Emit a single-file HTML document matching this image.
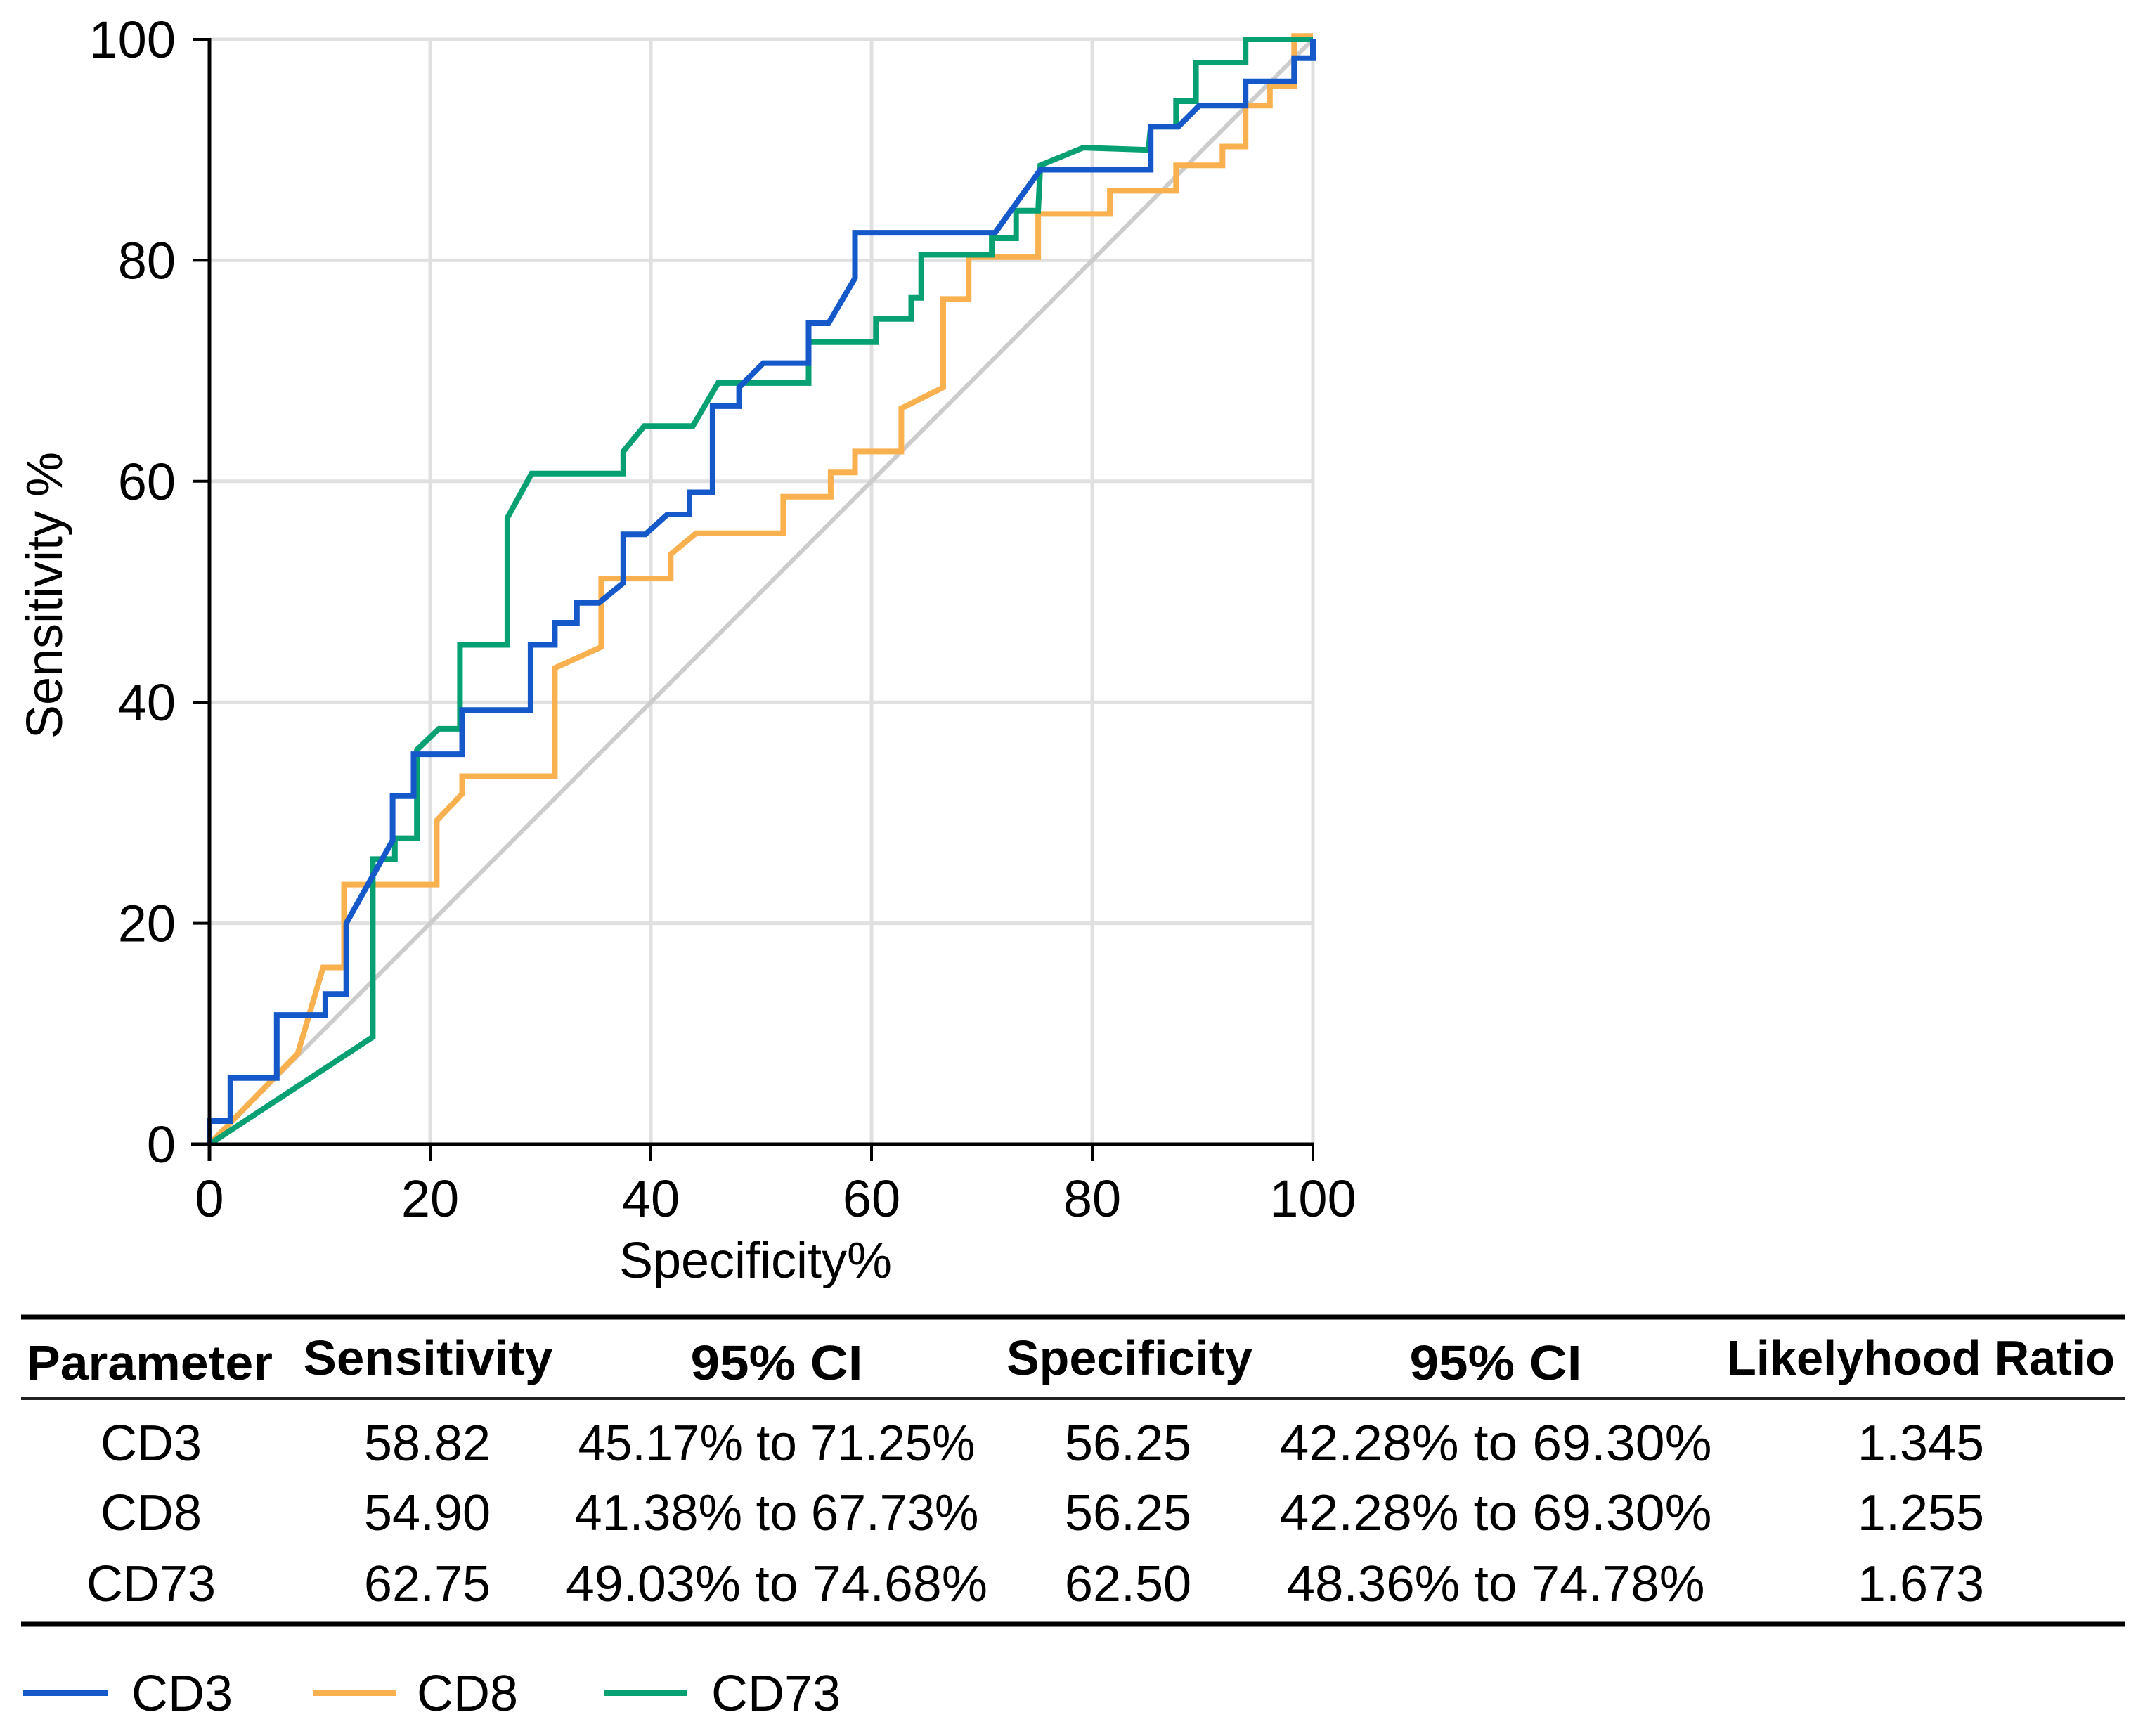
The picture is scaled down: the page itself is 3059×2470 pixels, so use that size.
<!DOCTYPE html>
<html><head><meta charset="utf-8"><style>
html,body{margin:0;padding:0;background:#fff;}
svg{display:block;font-family:"Liberation Sans",Arial,sans-serif;}
</style></head><body>
<svg id="chart" width="3059" height="2470" viewBox="0 0 3059 2470" xmlns="http://www.w3.org/2000/svg">
<g id="grid"></g>
<line id="diag" stroke="#cccccc" stroke-width="6"/>
<g id="series"></g>
<g id="axes"></g>
<text x="1075" y="1818" font-size="72" text-anchor="middle">Specificity%</text>
<text transform="translate(88,847) rotate(-90)" font-size="72" text-anchor="middle">Sensitivity %</text>
<g>
<line x1="30" x2="3024" y1="1874" y2="1874" stroke="#000" stroke-width="7"/>
<line x1="30" x2="3024" y1="1990" y2="1990" stroke="#222" stroke-width="4"/>
<line x1="30" x2="3024" y1="2311" y2="2311" stroke="#000" stroke-width="7"/>
<g font-size="70" font-weight="bold" text-anchor="middle">
<text x="213" y="1963" textLength="350" lengthAdjust="spacingAndGlyphs">Parameter</text>
<text x="609" y="1956" textLength="355" lengthAdjust="spacingAndGlyphs">Sensitivity</text>
<text x="1105" y="1963" textLength="245" lengthAdjust="spacingAndGlyphs">95% CI</text>
<text x="1607" y="1956" textLength="350" lengthAdjust="spacingAndGlyphs">Specificity</text>
<text x="2128" y="1963" textLength="245" lengthAdjust="spacingAndGlyphs">95% CI</text>
<text x="2733" y="1956" textLength="552" lengthAdjust="spacingAndGlyphs">Likelyhood Ratio</text>
</g>
<g font-size="72" text-anchor="middle">
<text x="215" y="2078">CD3</text>
<text x="608" y="2078">58.82</text>
<text x="1105" y="2078" textLength="565" lengthAdjust="spacingAndGlyphs">45.17% to 71.25%</text>
<text x="1605" y="2078">56.25</text>
<text x="2128" y="2078" textLength="615" lengthAdjust="spacingAndGlyphs">42.28% to 69.30%</text>
<text x="2733" y="2078">1.345</text>
<text x="215" y="2177">CD8</text>
<text x="608" y="2177">54.90</text>
<text x="1105" y="2177" textLength="575" lengthAdjust="spacingAndGlyphs">41.38% to 67.73%</text>
<text x="1605" y="2177">56.25</text>
<text x="2128" y="2177" textLength="615" lengthAdjust="spacingAndGlyphs">42.28% to 69.30%</text>
<text x="2733" y="2177">1.255</text>
<text x="215" y="2278">CD73</text>
<text x="608" y="2278">62.75</text>
<text x="1105" y="2278" textLength="600" lengthAdjust="spacingAndGlyphs">49.03% to 74.68%</text>
<text x="1605" y="2278">62.50</text>
<text x="2128" y="2278" textLength="595" lengthAdjust="spacingAndGlyphs">48.36% to 74.78%</text>
<text x="2733" y="2278">1.673</text>
</g>
</g>
<g font-size="72">
<g>
<line x1="33" x2="153" y1="2409" y2="2409" stroke="#1558c9" stroke-width="8"/>
<text x="187" y="2434">CD3</text></g>
<g>
<line x1="445" x2="563" y1="2409" y2="2409" stroke="#f9b04f" stroke-width="8"/>
<text x="593" y="2434">CD8</text></g>
<g>
<line x1="859" x2="978" y1="2409" y2="2409" stroke="#07a073" stroke-width="8"/>
<text x="1012" y="2434">CD73</text></g>
</g>
</svg>
<script>
const xTicks = [0, 20, 40, 60, 80, 100];
const yTicks = [0, 20, 40, 60, 80, 100];
const cd3X = [0,0,1.9,1.9,6.1,6.1,10.5,10.5,12.4,12.4,16.6,16.6,18.5,18.5,22.9,22.9,29.1,29.1,31.3,31.3,33.3,33.3,35.3,37.5,37.5,39.5,41.5,43.5,43.5,45.6,45.6,48,48,50.2,54.3,54.3,56.1,58.5,58.5,71.2,75.3,85.3,85.3,87.8,89.7,93.9,93.9,98.3,98.3,100,100];
const cd3Y = [0,2.1,2.1,6,6,11.7,11.7,13.6,13.6,20,27.5,31.5,31.5,35.3,35.3,39.3,39.3,45.2,45.2,47.2,47.2,49,49,50.8,55.2,55.2,57,57,59,59,66.8,66.8,68.5,70.7,70.7,74.3,74.3,78.4,82.5,82.5,88.2,88.2,92.1,92.1,94,94,96.2,96.2,98.3,98.3,100];
const cd8X = [0,8,10.3,12.2,12.2,20.6,20.6,22.9,22.9,31.3,31.3,35.5,35.5,41.8,41.8,44.1,52,52,56.3,56.3,58.5,58.5,62.7,62.7,66.5,66.5,68.8,68.8,75.1,75.1,81.6,81.6,87.6,87.6,91.8,91.8,93.9,93.9,96.1,96.1,98.3,98.3,100];
const cd8Y = [0,8.2,16,16,23.5,23.5,29.3,31.7,33.3,33.3,43.1,45,51.2,51.2,53.4,55.3,55.3,58.6,58.6,60.8,60.8,62.7,62.7,66.6,68.5,76.5,76.5,80.3,80.3,84.2,84.2,86.3,86.3,88.6,88.6,90.3,90.3,94,94,95.8,95.8,100.3,100.3];
const cd73X = [0,14.8,14.8,16.8,16.8,18.8,18.8,20.8,22.7,22.7,27,27,29.2,37.5,37.5,39.4,43.8,46.1,54.3,54.3,60.4,60.4,63.6,63.6,64.5,64.5,70.9,70.9,73.1,73.1,75.1,75.3,79.2,85.1,85.3,87.6,87.6,89.4,89.4,93.9,93.9,100];
const cd73Y = [0,9.7,25.8,25.8,27.7,27.7,35.7,37.6,37.6,45.2,45.2,56.7,60.7,60.7,62.7,65,65,68.9,68.9,72.6,72.6,74.7,74.7,76.6,76.6,80.5,80.5,82,82,84.5,84.5,88.6,90.2,90,92.1,92.1,94.4,94.4,97.9,97.9,100,100];

const X0 = 298, X1 = 1868, Y0 = 1628, Y1 = 56;
function sx(v){ return X0 + (X1 - X0) * v / 100; }
function sy(v){ return Y0 - (Y0 - Y1) * v / 100; }
const NS = 'http://www.w3.org/2000/svg';
function mk(tag, attrs, parent){
  const e = document.createElementNS(NS, tag);
  for (const k in attrs) e.setAttribute(k, attrs[k]);
  parent.appendChild(e);
  return e;
}
const grid = document.getElementById('grid');
const axes = document.getElementById('axes');
xTicks.forEach(t => {
  if (t > 0) {
    const g = mk('line', {x1: sx(t), x2: sx(t), y1: sy(0), y2: sy(100), stroke: '#e0e0e0', 'stroke-width': 5}, grid);
    
    
  }
  const tk = mk('line', {x1: sx(t), x2: sx(t), y1: Y0, y2: Y0 + 24, stroke: '#000', 'stroke-width': 4}, axes);
  
  
  const lb = mk('text', {x: sx(t), y: 1731, 'font-size': 74, 'text-anchor': 'middle'}, axes);
  lb.textContent = t;
  
  
});
yTicks.forEach(t => {
  if (t > 0) {
    const g = mk('line', {x1: sx(0), x2: sx(100), y1: sy(t), y2: sy(t), stroke: '#e0e0e0', 'stroke-width': 5}, grid);
    
    
  }
  const tk = mk('line', {x1: X0 - 24, x2: X0, y1: sy(t), y2: sy(t), stroke: '#000', 'stroke-width': 4}, axes);
  
  
  const lb = mk('text', {x: 250, y: sy(t) + 26, 'font-size': 74, 'text-anchor': 'end'}, axes);
  lb.textContent = t;
  
  
});
const xa = mk('line', {x1: X0 - 26, x2: X1 + 2, y1: Y0, y2: Y0, stroke: '#000', 'stroke-width': 5}, axes);


const ya = mk('line', {x1: X0, x2: X0, y1: Y1 - 2, y2: Y0 + 24, stroke: '#000', 'stroke-width': 5}, axes);



const d = document.getElementById('diag');
d.setAttribute('x1', sx(0)); d.setAttribute('y1', sy(0));
d.setAttribute('x2', sx(100)); d.setAttribute('y2', sy(100));

const series = document.getElementById('series');
function drawLine(xs, ys, color, name){
  const pts = xs.map((v, i) => sx(v).toFixed(1) + ',' + sy(ys[i]).toFixed(1)).join(' ');
  const p = mk('polyline', {points: pts, fill: 'none', stroke: color, 'stroke-width': 8, 'stroke-linejoin': 'miter'}, series);
  
  
}
drawLine(cd8X, cd8Y, '#f9b04f', 'cd8-roc-line');
drawLine(cd73X, cd73Y, '#07a073', 'cd73-roc-line');
drawLine(cd3X, cd3Y, '#1558c9', 'cd3-roc-line');
</script>
</body></html>
